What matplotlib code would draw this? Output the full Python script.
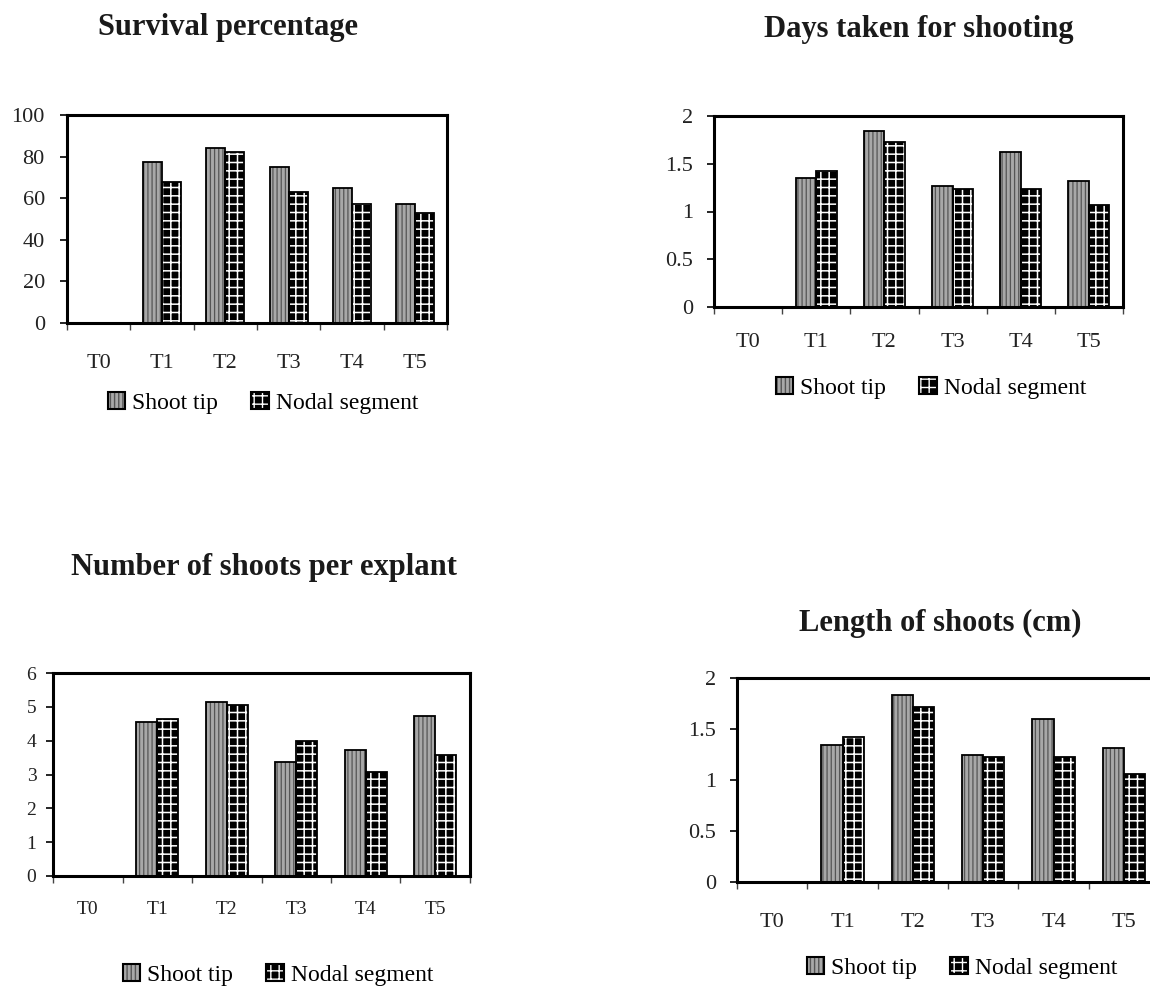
import matplotlib
matplotlib.use("Agg")
import matplotlib.pyplot as plt
import numpy as np
from matplotlib.patches import Patch
from matplotlib.legend_handler import HandlerTuple

categories = ["T0", "T1", "T2", "T3", "T4", "T5"]
series_names = ["Shoot tip", "Nodal segment"]

survival_shoot = [0, 77.6, 83.9, 74.8, 64.8, 57.0]
survival_nodal = [0, 67.8, 82.3, 63.2, 57.0, 52.9]

days_shoot = [0, 1.35, 1.84, 1.27, 1.62, 1.32]
days_nodal = [0, 1.42, 1.73, 1.24, 1.24, 1.07]

number_shoot = [0, 4.54, 5.13, 3.36, 3.73, 4.74]
number_nodal = [0, 4.65, 5.06, 3.98, 3.06, 3.58]

length_shoot = [0, 1.34, 1.83, 1.25, 1.60, 1.31]
length_nodal = [0, 1.42, 1.72, 1.23, 1.23, 1.06]

titles = ["Survival percentage", "Days taken for shooting",
          "Number of shoots per explant", "Length of shoots (cm)"]

plt.rcParams['font.family'] = ['Liberation Serif', 'DejaVu Serif']

W, H = 1150, 989
fig = plt.figure(figsize=(W / 100, H / 100), dpi=100)

SHOOT_FC = '#a8a8a8'
SHOOT_HC = '#555555'
NODAL_FC = 'black'
NODAL_HC = 'white'
SHOOT_HLW = 0.9
NODAL_HLW = 1.1

def fr(x0, y0, x1, y1):
    return [x0 / W, 1 - y1 / H, (x1 - x0) / W, (y1 - y0) / H]

panels = [
    dict(rect=fr(67, 115, 447, 323), shoot=survival_shoot, nodal=survival_nodal,
         ylim=(0, 100), yticks=[0, 20, 40, 60, 80, 100], ylabels=None,
         fs=16, xpad=22, ypad=11, title_xy=(228, 28), leg_xy=(263, 403), lfs=17),
    dict(rect=fr(714, 116, 1123, 307), shoot=days_shoot, nodal=days_nodal,
         ylim=(0, 2), yticks=[0, 0.5, 1, 1.5, 2], ylabels=["0", "0.5", "1", "1.5", "2"],
         fs=16, xpad=19, ypad=10, title_xy=(919, 30), leg_xy=(931, 388), lfs=17),
    dict(rect=fr(53, 673, 470, 876), shoot=number_shoot, nodal=number_nodal,
         ylim=(0, 6), yticks=[0, 1, 2, 3, 4, 5, 6], ylabels=None,
         fs=14, xpad=18, ypad=7, title_xy=(264, 567), leg_xy=(278, 975), lfs=17),
    dict(rect=fr(737, 678, 1159, 882), shoot=length_shoot, nodal=length_nodal,
         ylim=(0, 2), yticks=[0, 0.5, 1, 1.5, 2], ylabels=["0", "0.5", "1", "1.5", "2"],
         fs=16, xpad=22, ypad=10, title_xy=(940, 623), leg_xy=(962, 968), lfs=17),
]

bw = 0.3
x = np.arange(len(categories))

for i, p in enumerate(panels):
    ax = fig.add_axes(p['rect'])
    with plt.rc_context({'hatch.linewidth': SHOOT_HLW}):
        ax.bar(x - bw / 2, p['shoot'], bw, facecolor=SHOOT_FC, edgecolor=SHOOT_HC,
               hatch='||||', linewidth=0, zorder=2)
    ax.bar(x - bw / 2, p['shoot'], bw, fill=False, edgecolor='black', linewidth=1.3, zorder=3)
    with plt.rc_context({'hatch.linewidth': NODAL_HLW}):
        ax.bar(x + bw / 2, p['nodal'], bw, facecolor=NODAL_FC, edgecolor=NODAL_HC,
               hatch='++', linewidth=0, zorder=2)
    ax.bar(x + bw / 2, p['nodal'], bw, fill=False, edgecolor='black', linewidth=1.3, zorder=3)

    ax.set_xlim(-0.5, len(categories) - 0.5)
    ax.set_ylim(*p['ylim'])
    ax.set_xticks(x)
    ax.set_xticklabels(categories, fontsize=p['fs'])
    ax.set_xticks(np.arange(-0.5, len(categories), 1.0), minor=True)
    ax.tick_params(axis='x', which='major', length=0, pad=p['xpad'])
    ax.tick_params(axis='x', which='minor', length=5, width=1, direction='out', color='#444444')
    ax.set_yticks(p['yticks'])
    if p['ylabels'] is not None:
        ax.set_yticklabels(p['ylabels'])
    ax.tick_params(axis='y', which='major', length=5, width=1.2, direction='out',
                   labelsize=p['fs'], pad=p['ypad'])
    for s in ax.spines.values():
        s.set_linewidth(2.2)
        s.set_zorder(5)
    for lab in ax.get_xticklabels() + ax.get_yticklabels():
        lab.set_color('#222222')

    fig.text(p['title_xy'][0] / W, 1 - p['title_xy'][1] / H, titles[i],
             ha='center', va='center', fontsize=22, fontweight='bold', color='#1a1a1a')

    with plt.rc_context({'hatch.linewidth': SHOOT_HLW}):
        h1a = Patch(facecolor=SHOOT_FC, edgecolor=SHOOT_HC, hatch='||||', linewidth=0)
    h1b = Patch(fill=False, edgecolor='black', linewidth=1.5)
    with plt.rc_context({'hatch.linewidth': NODAL_HLW}):
        h2a = Patch(facecolor=NODAL_FC, edgecolor=NODAL_HC, hatch='++', linewidth=0)
    h2b = Patch(fill=False, edgecolor='black', linewidth=1.5)
    fig.legend([(h1a, h1b), (h2a, h2b)], series_names,
               handler_map={tuple: HandlerTuple(ndivide=1, pad=0)},
               loc='center', bbox_to_anchor=(p['leg_xy'][0] / W, 1 - p['leg_xy'][1] / H),
               ncol=2, frameon=False, fontsize=p['lfs'], handlelength=0.75,
               handleheight=0.75, handletextpad=0.3, columnspacing=1.4)

fig.savefig("out.png", dpi=100)
